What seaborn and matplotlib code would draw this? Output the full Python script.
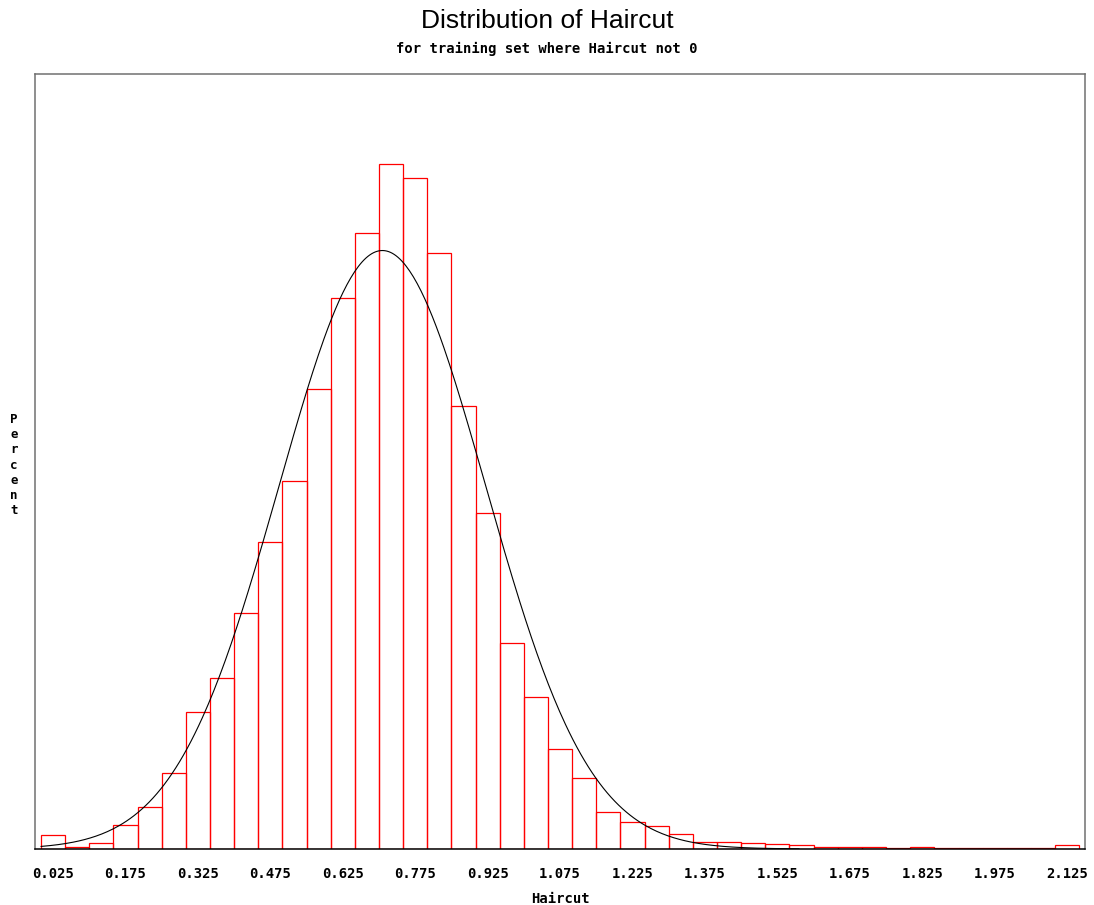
import numpy as np
import pandas as pd
import matplotlib
matplotlib.use("Agg")
import matplotlib.pyplot as plt
import seaborn as sns

# Histogram of Haircut: bin midpoints (width 0.05) and percent of observations
bin_mid = [0.025, 0.075, 0.125, 0.175, 0.225, 0.275, 0.325, 0.375, 0.425, 0.475,
           0.525, 0.575, 0.625, 0.675, 0.725, 0.775, 0.825, 0.875, 0.925, 0.975,
           1.025, 1.075, 1.125, 1.175, 1.225, 1.275, 1.325, 1.375, 1.425, 1.475,
           1.525, 1.575, 1.625, 1.675, 1.725, 1.775, 1.825, 1.875, 1.925, 1.975,
           2.025, 2.075, 2.125]
percent = [0.22, 0.03, 0.09, 0.37, 0.65, 1.18, 2.13, 2.66, 3.67, 4.78,
           5.73, 7.16, 8.58, 9.59, 10.67, 10.45, 9.28, 6.90, 5.23, 3.21,
           2.37, 1.56, 1.11, 0.58, 0.42, 0.36, 0.23, 0.11, 0.11, 0.09,
           0.08, 0.06, 0.03, 0.03, 0.03, 0.02, 0.03, 0.01, 0.01, 0.01,
           0.01, 0.01, 0.06]

# Fitted normal parameters
mu = 0.707
sigma = 0.214
bin_width = 0.05

tick_values = [0.025, 0.175, 0.325, 0.475, 0.625, 0.775, 0.925, 1.075,
               1.225, 1.375, 1.525, 1.675, 1.825, 1.975, 2.125]
tick_labels = ["0.025", "0.175", "0.325", "0.475", "0.625", "0.775", "0.925",
               "1.075", "1.225", "1.375", "1.525", "1.675", "1.825", "1.975",
               "2.125"]

sns.set_style("white")
plt.rcParams["font.family"] = ["DejaVu Sans Mono"]
plt.rcParams["text.color"] = "black"
plt.rcParams["axes.labelcolor"] = "black"
plt.rcParams["xtick.color"] = "black"

fig = plt.figure(figsize=(10.94, 9.05), dpi=100)
ax = fig.add_axes([0.032, 0.0619, 0.9598, 0.8563])

df = pd.DataFrame({"Haircut": bin_mid, "Percent": percent})
sns.histplot(data=df, x="Haircut", weights="Percent",
             binwidth=bin_width, binrange=(0.0, 2.15),
             fill=False, color="#ff0000", linewidth=0.9, ax=ax)

# Normal density scaled to percent per bin
xs = np.linspace(0.0, 1.57, 400)
ys = 100 * bin_width * np.exp(-0.5 * ((xs - mu) / sigma) ** 2) / (sigma * np.sqrt(2 * np.pi))
sns.lineplot(x=xs, y=ys, color="black", linewidth=0.8, ax=ax)

ax.set_xlim(-0.0123, 2.162)
ax.set_ylim(0, 12.07)
ax.set_xticks(tick_values)
ax.set_xticklabels(tick_labels, fontsize=10, fontweight="bold")
ax.set_yticks([])
ax.tick_params(axis="x", direction="out", length=4, width=1, color="black", pad=9)
ax.set_xlabel("Haircut", fontsize=10, fontweight="bold", labelpad=8)
ax.set_ylabel("")

for side in ["top", "left", "right"]:
    ax.spines[side].set_color("#707070")
    ax.spines[side].set_linewidth(1.1)
ax.spines["bottom"].set_color("black")
ax.spines["bottom"].set_linewidth(1.1)

fig.text(0.013, 0.486, "\n".join("Percent"), fontsize=9, fontweight="bold",
         ha="center", va="center", linespacing=1.22)

fig.text(0.5, 0.977, "Distribution of Haircut", fontsize=19,
         family=["Liberation Sans"], ha="center", va="center")
fig.text(0.5, 0.946, "for training set where Haircut not 0", fontsize=10,
         fontweight="bold", ha="center", va="center")

fig.savefig("out.png", dpi=100)
